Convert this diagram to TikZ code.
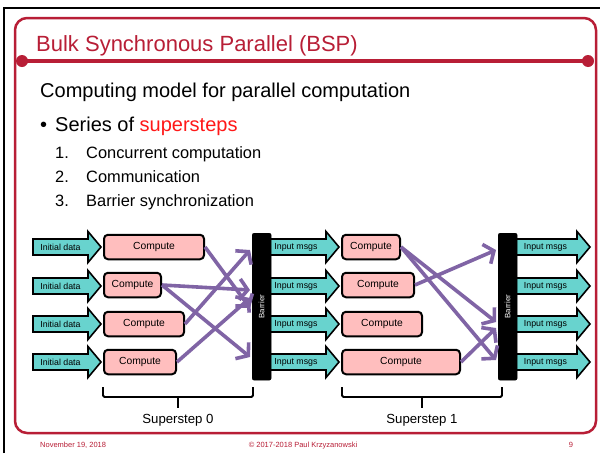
\documentclass[tikz,border=0pt]{standalone}
\usepackage{fontspec}
\setmainfont{Liberation Sans}
\usetikzlibrary{arrows.meta}

\definecolor{slidered}{RGB}{184,30,54}
\definecolor{hotred}{RGB}{255,24,24}
\definecolor{msgcyan}{RGB}{104,211,206}
\definecolor{taskpink}{RGB}{255,190,190}
\definecolor{flowpurple}{RGB}{128,100,165}

\tikzset{
  arrowlabel/.style={inner sep=0pt, font=\fontsize{8.8}{10}\selectfont},
  fatbody/.style={fill=msgcyan, draw=black, line width=1.6pt, line join=miter},
  taskbox/.style={draw=black, fill=taskpink, line width=2pt, rounded corners=4pt,
    minimum height=24.5pt, inner sep=0pt, anchor=west, font=\fontsize{10.3}{12}\selectfont},
  barrierbar/.style={fill=black, draw=black, rounded corners=2pt, minimum width=19pt,
    minimum height=147pt, inner sep=0pt, anchor=north west},
  barrierlabel/.style={rotate=90, text=white, inner sep=0pt, font=\fontsize{7.8}{9}\selectfont},
  flow/.style={draw=flowpurple, line width=3.6pt, -{Straight Barb[length=8pt,width=21pt]}},
  bracket/.style={draw=black, line width=1.8pt, rounded corners=1.5pt},
  steplabel/.style={inner sep=0pt, anchor=base, font=\fontsize{13.2}{15}\selectfont},
  footer/.style={inner sep=0pt, text=slidered, font=\fontsize{7.5}{9}\selectfont},
}

% fat block arrow: name, left x, tip x, centre y, label
\newcommand\fatarrow[5]{%
  \path[fatbody] (#2,{#4-8}) -- ({#3-13},{#4-8}) -- ({#3-13},{#4-15.5}) -- (#3,#4)
    -- ({#3-13},{#4+15.5}) -- ({#3-13},{#4+8}) -- (#2,{#4+8}) -- cycle;
  \node[arrowlabel] (#1) at ({(#2+#3-13)/2},#4) {#5};
}

\begin{document}
\begin{tikzpicture}[x=1pt, y=-1pt]
\useasboundingbox (0,0) rectangle (600,453);
\fill[white] (0,0) rectangle (600,453);

% slide edges
\draw[line width=2.5pt] (4,453) -- (4,8) -- (600,8);
\draw[slidered, line width=2.5pt, rounded corners=12pt] (15,18) rectangle (596,433);
\draw[slidered, line width=3.5pt] (22,61) -- (588,61);
\fill[slidered] (22,61) circle[radius=6pt] (588,61) circle[radius=6pt];

% heading and bullet text
\node[anchor=base west, inner sep=0pt, text=slidered, font=\fontsize{22}{26}\selectfont] (title) at (36,51) {Bulk Synchronous Parallel (BSP)};
\node[anchor=base west, inner sep=0pt, font=\fontsize{20}{24}\selectfont] (intro) at (40,97) {Computing model for parallel computation};
\node[anchor=base west, inner sep=0pt, font=\fontsize{20}{24}\selectfont] (dot) at (40,131) {•};
\node[anchor=base west, inner sep=0pt, font=\fontsize{20}{24}\selectfont] (series) at (55,131) {Series of \textcolor{hotred}{supersteps}};
\foreach \n/\t/\y in {1/Concurrent computation/158, 2/Communication/182, 3/Barrier synchronization/206} {
  \node[anchor=base west, inner sep=0pt, font=\fontsize{16.4}{19}\selectfont] (num\n) at (55,\y) {\n.};
  \node[anchor=base west, inner sep=0pt, font=\fontsize{16.4}{19}\selectfont] (item\n) at (86,\y) {\t};
}

% input arrows
\foreach \r/\y in {1/247, 2/286, 3/324, 4/362} {
  \fatarrow{init\r}{33}{101}{\y}{Initial data}
  \fatarrow{msga\r}{266}{339}{\y}{Input msgs}
  \fatarrow{msgb\r}{514}{590}{\y}{Input msgs}
}

% compute tasks, superstep 0
\node[taskbox, minimum width=100pt] (c01) at (103,247) {Compute};
\node[taskbox, minimum width=57pt]  (c02) at (103,285) {Compute};
\node[taskbox, minimum width=80pt]  (c03) at (103,324) {Compute};
\node[taskbox, minimum width=72pt]  (c04) at (103,362) {Compute};
% compute tasks, superstep 1
\node[taskbox, minimum width=58pt]  (c11) at (341,247) {Compute};
\node[taskbox, minimum width=72pt]  (c12) at (341,285) {Compute};
\node[taskbox, minimum width=80pt]  (c13) at (341,324) {Compute};
\node[taskbox, minimum width=118pt] (c14) at (341,362) {Compute};

% barriers
\node[barrierbar] (b0) at (252,233) {};
\node[barrierbar] (b1) at (498,233) {};
\node[barrierlabel] (b0t) at (b0) {Barrier};
\node[barrierlabel] (b1t) at (b1) {Barrier};

% message targets on the barriers
\coordinate (p01) at (250,250);
\coordinate (p02) at (250,290);
\coordinate (p03) at (250,308);
\coordinate (p04) at (250,298);
\coordinate (p05) at (250,357);
\coordinate (p11) at (496,250);
\coordinate (p12) at (496,322);
\coordinate (p13) at (496,328);
\coordinate (p14) at (496,360);

% communication, superstep 0
\draw[flow] (c01.east) -- (p03);
\draw[flow] (c02.east) -- (p02);
\draw[flow] (c02.east) -- (p05);
\draw[flow] (c03.east) -- (p01);
\draw[flow] (c04.east) -- (p04);
% communication, superstep 1
\draw[flow] (c11.east) -- (p12);
\draw[flow] (c11.east) -- (p14);
\draw[flow] (c12.east) -- (p11);
\draw[flow] (c14.east) -- (p13);

% superstep brackets
\draw[bracket] (103,387) -- (103,397) -- (253,397) -- (253,387);
\draw[bracket] (178,397) -- (178,408);
\draw[bracket] (342,387) -- (342,397) -- (502,397) -- (502,387);
\draw[bracket] (422,397) -- (422,408);
\node[steplabel] (s0) at (178,423) {Superstep 0};
\node[steplabel] (s1) at (422,423) {Superstep 1};

% footer
\node[footer, anchor=base west] (date) at (40,447) {November 19, 2018};
\node[footer, anchor=base] (copy) at (303,447) {© 2017-2018 Paul Krzyzanowski};
\node[footer, anchor=base] (page) at (571,447) {9};
\end{tikzpicture}
\end{document}
